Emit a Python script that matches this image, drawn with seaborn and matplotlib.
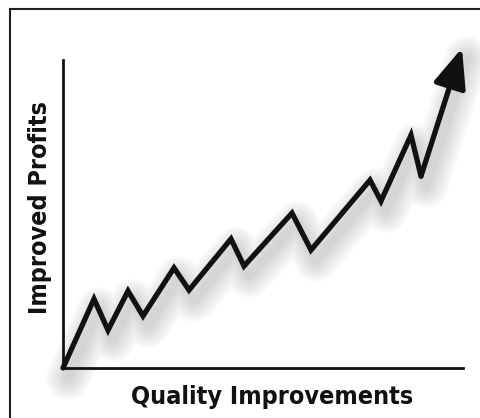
"""Quality improvements vs. improved profits - zigzag arrow chart."""
import matplotlib

matplotlib.use("Agg")
import matplotlib.pyplot as plt
import matplotlib.transforms as mtransforms
from matplotlib.patches import Rectangle
import pandas as pd
import seaborn as sns

# values (axes scaled 0-100)
quality = [0, 7.75, 11.25, 16.25, 20, 27.75, 31.5, 42, 45.25, 57.25,
           62, 76.75, 79.5, 87, 89.5, 99.75]
profits = [0, 22.4, 12.3, 25.0, 16.9, 32.5, 25.3, 41.9, 33.1, 50.3,
           38.3, 61.0, 54.2, 75.6, 62.3, 103.9]
x_label = "Quality Improvements"
y_label = "Improved Profits"

df = pd.DataFrame({"quality": quality, "profits": profits})

sns.set_theme(style="white")
plt.rcParams["font.family"] = ["DejaVu Sans"]

fig = plt.figure(figsize=(4.81, 4.18), dpi=100)
ax = fig.add_axes([63 / 481, 50 / 418, 400 / 481, 308 / 418])
ax.set_xlim(0, 100)
ax.set_ylim(0, 100)

# soft drop shadow: many wide translucent copies, offset down-right
shadow = mtransforms.offset_copy(ax.transData, fig=fig, x=5, y=-10,
                                 units="dots")
for lw in range(44, 4, -4):
    ax.plot(df["quality"], df["profits"], color="#666",
            lw=lw * 0.72, alpha=0.028, transform=shadow, clip_on=False,
            solid_capstyle="round", solid_joinstyle="round", zorder=1)

line_df = df.iloc[:-1]
sns.lineplot(data=line_df, x="quality", y="profits", sort=False,
             estimator=None, color="#111", lw=3.8, ax=ax, clip_on=False,
             zorder=3)
ax.lines[-1].set_solid_joinstyle("miter")
ax.lines[-1].set_solid_capstyle("round")

# last leg ends in an arrow head
ax.annotate("", xy=(quality[-1], profits[-1]),
            xytext=(quality[-2], profits[-2]),
            arrowprops=dict(arrowstyle="-|>,head_length=2.4,head_width=1.0",
                            color="#111", lw=3.8, mutation_scale=10,
                            shrinkA=0, shrinkB=0),
            annotation_clip=False, zorder=4)

for side in ["top", "right"]:
    ax.spines[side].set_visible(False)
for side in ["left", "bottom"]:
    ax.spines[side].set_color("#111")
    ax.spines[side].set_linewidth(2.0)
ax.set_xticks([])
ax.set_yticks([])
ax.set_xlabel("")
ax.set_ylabel("")

fig.text(272 / 481, 1 - 397 / 418, x_label, ha="center", va="center",
         fontsize=18, weight="bold", stretch="condensed", color="#111")
fig.text(40 / 481, 1 - 208 / 418, y_label, ha="center", va="center",
         rotation=90, fontsize=18, weight="bold", stretch="condensed",
         color="#111")

# outer frame (right and bottom edges run off the picture)
fig.patches.append(Rectangle((10 / 481, -0.1), 1.0, 1 - 9 / 418 + 0.1,
                             transform=fig.transFigure, fill=False,
                             edgecolor="#222", lw=1.5))

fig.savefig("out.png", dpi=100)
plt.close(fig)
